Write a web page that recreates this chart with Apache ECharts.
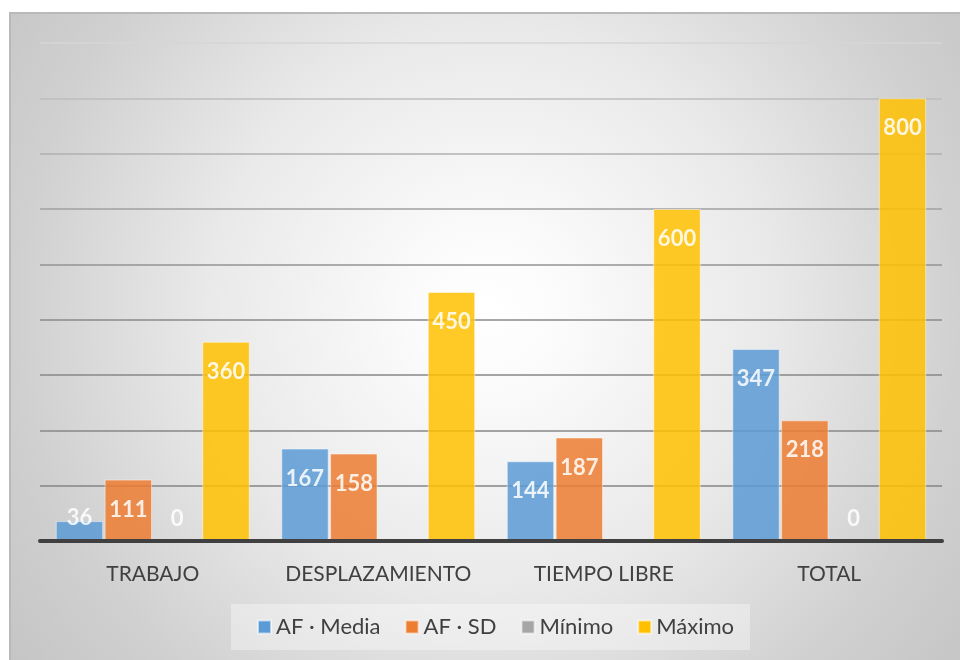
<!DOCTYPE html>
<html>
<head>
<meta charset="utf-8">
<script src="https://cdn.jsdelivr.net/npm/echarts@6/dist/echarts.min.js"></script>
<style>
  html, body { margin: 0; padding: 0; background: #ffffff; }
  #chart { width: 960px; height: 660px; }
</style>
</head>
<body>
<div id="chart"></div>
<script>
// Physical activity summary by domain
const categories = ['TRABAJO', 'DESPLAZAMIENTO', 'TIEMPO LIBRE', 'TOTAL'];
const seriesNames = ['AF · Media', 'AF · SD', 'Mínimo', 'Máximo'];
const mediaValues = [36, 167, 144, 347];
const sdValues = [111, 158, 187, 218];
const minimoValues = [0, null, null, 0];
const maximoValues = [360, 450, 600, 800];
const seriesColors = ['#5B9BD5', '#ED7D31', '#A5A5A5', '#FFC000'];

const font = 'Lato, "Open Sans", sans-serif';

// Inside-end labels; short bars keep the label resting on the baseline
function toData(values) {
  return values.map(v => {
    if (v === null) return null;
    const short = v < 90;
    return {
      value: v,
      label: short
        ? { position: 'insideBottom', distance: 12 }
        : { position: 'insideTop', distance: 19 }
    };
  });
}

const allValues = [mediaValues, sdValues, minimoValues, maximoValues];

const series = seriesNames.map((name, i) => ({
  name: name,
  type: 'bar',
  data: toData(allValues[i]),
  barGap: '3%',
  barCategoryGap: '14%',
  itemStyle: {
    color: seriesColors[i],
    opacity: 0.85,
    borderColor: 'rgba(255,255,255,0.55)',
    borderWidth: 1
  },
  label: {
    show: true,
    color: '#ffffff',
    fontFamily: font,
    fontWeight: 'bold',
    fontSize: 22
  },
  z: 3
}));

const chart = echarts.init(document.getElementById('chart'), null, { renderer: 'canvas' });

chart.setOption({
  animation: false,
  backgroundColor: '#ffffff',
  graphic: [{
    type: 'rect',
    z: -10,
    silent: true,
    shape: { x: 10, y: 13, width: 960, height: 660 },
    style: {
      fill: {
        type: 'radial', x: 0.5, y: 0.45, r: 0.95,
        colorStops: [
          { offset: 0, color: '#ffffff' },
          { offset: 0.12, color: '#fbfbfb' },
          { offset: 0.45, color: '#e9e9e9' },
          { offset: 0.75, color: '#d0d0d0' },
          { offset: 1, color: '#c2c2c2' }
        ]
      },
      stroke: '#b9b9b9',
      lineWidth: 2
    }
  }],
  grid: { left: 40, right: 18, top: 43, bottom: 119, containLabel: false },
  xAxis: {
    type: 'category',
    data: categories,
    axisLine: { show: true, lineStyle: { color: '#404040', width: 4 } },
    axisTick: { show: false },
    axisLabel: {
      interval: 0,
      color: '#404040',
      fontFamily: font,
      fontSize: 21,
      margin: 23
    },
    z: 5
  },
  yAxis: {
    type: 'value',
    min: 0,
    max: 900,
    interval: 100,
    axisLine: { show: false },
    axisTick: { show: false },
    axisLabel: { show: false },
    splitLine: {
      show: true,
      lineStyle: {
        color: ['#858585', '#858585', '#878787', '#878787', '#8a8a8a',
                '#939393', '#a0a0a0', '#b0b0b0', '#bdbdbd', '#d6d6d6'],
        width: 1.6
      }
    }
  },
  legend: {
    data: seriesNames.map((n, i) => ({ name: n, itemStyle: { color: seriesColors[i], opacity: 1 } })),
    left: 231,
    top: 604,
    itemWidth: 13,
    itemHeight: 13,
    itemGap: 24,
    padding: [12, 16, 12, 26],
    backgroundColor: 'rgba(255,255,255,0.35)',
    icon: 'rect',
    textStyle: { color: '#404040', fontFamily: font, fontSize: 22 }
  },
  series: series
});
</script>
</body>
</html>
